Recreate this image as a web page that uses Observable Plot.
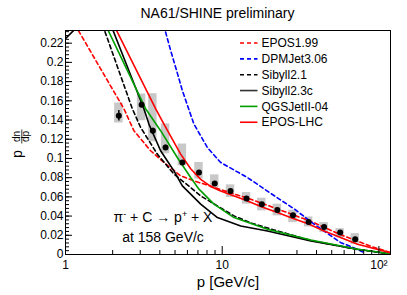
<!DOCTYPE html>
<html><head><meta charset="utf-8">
<script src="https://cdn.jsdelivr.net/npm/d3@7"></script>
<script src="https://cdn.jsdelivr.net/npm/@observablehq/plot@0.6"></script>
<style>
body{margin:0;background:#fff;font-family:"Liberation Sans",Arial,sans-serif;}
#title{height:20px;padding-top:5px;padding-left:28px;width:379px;text-align:center;font-size:14px;line-height:16px;color:#000;}
#chart svg{display:block;}
</style></head><body>
<div id="title">NA61/SHINE preliminary</div>
<div id="chart"></div>
<script>
// ---- measured data (NA61/SHINE preliminary) ----
const pMomentum = [2.19,3.06,3.61,4.35,5.57,7.11,8.96,11.3,14.3,17.9,22.5,28.3,35.6,44.7,56.6,70.6];
const pdndp     = [0.1445,0.156,0.1289,0.1114,0.0958,0.0853,0.0739,0.0662,0.0582,0.0523,0.0464,0.0409,0.0339,0.0287,0.0228,0.0159];
const statErr   = [0.0055,0.0025,0.0025,0.0025,0.002,0.002,0.002,0.002,0.0015,0.0015,0.0015,0.0015,0.0015,0.0015,0.0015,0.0015];
const sysLow    = [0.1369,0.1393,0.1174,0.1048,0.0923,0.0785,0.0691,0.0593,0.0524,0.0454,0.0402,0.0332,0.0287,0.0227,0.0175,0.0106];
const sysHigh   = [0.1577,0.1671,0.1674,0.136,0.115,0.0958,0.0829,0.0725,0.0645,0.0586,0.0524,0.0461,0.0391,0.0332,0.0269,0.0217];

// ---- model predictions ----
const epos199P = [1.09,1.188,1.673,2.358,2.732,3.493,4.248,5.43,6.60,8.44,9.78,15.2,23.6,36.8,57.2,88.9,118];
const epos199Y = [0.2457,0.2353,0.1935,0.1518,0.1289,0.108,0.0958,0.0819,0.0767,0.0712,0.0676,0.0575,0.0462,0.0345,0.0205,0.0085,0.0022];
const dpmjetP  = [4.12,4.29,4.69,5.12,5.57,6.60,8.04,9.78,14.49,22.5,28.8,38.4,57.2,73.1,79];
const dpmjetY  = [0.2457,0.2353,0.2123,0.1914,0.1706,0.1358,0.1114,0.0958,0.0801,0.059,0.0475,0.0318,0.0123,0.0054,0.0026];
const sib21P   = [1.667,1.757,2.669,3.015,3.855,4.92,6.29,7.29,9.78,11.9,15.2,21.4,36.8,73.1,118];
const sib21Y   = [0.2457,0.2353,0.1518,0.1323,0.1045,0.0837,0.0697,0.061,0.0485,0.0402,0.0329,0.0256,0.0146,0.0052,0.0007];
const sib23P   = [1.0,1.16,1.45,1.876,1.988,3.164,3.406,4.046,4.92,5.57,7.29,9.32,13.13,19.45,36.8,73.1,118];
const sib23Y   = [0.2248,0.2353,0.255,0.2457,0.2353,0.1518,0.1358,0.108,0.0871,0.0715,0.0524,0.0384,0.0297,0.0245,0.0141,0.0054,0.0008];
const qgsP     = [1.72,1.847,3.245,4.046,5.17,6.29,7.11,8.86,11.9,19.45,36.8,73.1,118];
const qgsY     = [0.2457,0.2353,0.1518,0.1289,0.101,0.0801,0.068,0.0524,0.0384,0.0263,0.0151,0.0054,0.0008];
const eposLhcP = [1.94,2.087,3.758,4.248,5.43,6.29,7.29,8.44,9.78,14.13,17.8,22.5,28.1,35.3,44.7,73.1,118];
const eposLhcY = [0.2457,0.2353,0.1518,0.1358,0.1045,0.0892,0.0782,0.0709,0.0662,0.0565,0.0496,0.0436,0.0378,0.0321,0.0245,0.0106,0.0019];

const modelNames = ["EPOS1.99","DPMJet3.06","Sibyll2.1","Sibyll2.3c","QGSJetII-04","EPOS-LHC"];

// ---- axis ticks ----
const yTicks = [0,0.02,0.04,0.06,0.08,0.1,0.12,0.14,0.16,0.18,0.2,0.22];
const yTickLabels = ["0","0.02","0.04","0.06","0.08","0.1","0.12","0.14","0.16","0.18","0.2","0.22"];
const xTicks = [1,10,100];
const xTickLabels = ["1","10","10\u00b2"];

// ---- build tables ----
const points = pMomentum.map((p,i)=>({p, y:pdndp[i], e:statErr[i], lo:sysLow[i], hi:sysHigh[i]}));
const curveSets = [[epos199P,epos199Y],[dpmjetP,dpmjetY],[sib21P,sib21Y],[sib23P,sib23Y],[qgsP,qgsY],[eposLhcP,eposLhcY]];
const styles = [
  {stroke:"#ff0000", dash:"4,3"},
  {stroke:"#0000ff", dash:"4,3"},
  {stroke:"#000000", dash:"4,3"},
  {stroke:"#000000", dash:null},
  {stroke:"#009f00", dash:null},
  {stroke:"#ff0000", dash:null}
];
const curves = curveSets.map(([ps,ys],k)=>ps.map((p,i)=>({model:modelNames[k], p, y:ys[i]})));

const W=407, H=270, mL=65, mR=17, mT=5, mB=41;
const frameW = W-mL-mR, frameH = H-mT-mB;
const boxHalf = 1.064;

const yMinor = d3.range(0, 0.2333, 0.004);
const xMinor = [];
for (const dec of [1,10]) for (let k=2;k<=9;k++) xMinor.push(k*dec);

const lineMarks = curves.map((c,k)=>Plot.line(c,{x:"p",y:"y",stroke:styles[k].stroke,strokeWidth:1.6,strokeDasharray:styles[k].dash,clip:true}));

const chart = Plot.plot({
  width:W, height:H, marginLeft:mL, marginRight:mR, marginTop:mT, marginBottom:mB,
  style:{fontFamily:"'Liberation Sans', Arial, sans-serif", fontSize:"12px", color:"#000", background:"#fff"},
  x:{type:"log", domain:[1,118.6]},
  y:{domain:[0,0.2332]},
  marks:[
    Plot.rect(points,{x1:d=>d.p/boxHalf, x2:d=>d.p*boxHalf, y1:"lo", y2:"hi", fill:"#c8c8c8"}),
    ...lineMarks,
    Plot.ruleX(points,{x:"p", y1:d=>d.y-d.e, y2:d=>d.y+d.e, stroke:"#000", strokeWidth:1.5}),
    Plot.dot(points,{x:"p", y:"y", r:3, fill:"#000", stroke:null}),
    Plot.tickY(yTicks,{y:d=>d, insetRight:frameW-7, stroke:"#000"}),
    Plot.tickY(yMinor,{y:d=>d, insetRight:frameW-4, stroke:"#000"}),
    Plot.tickX(xTicks,{x:d=>d, insetTop:frameH-8, stroke:"#000"}),
    Plot.tickX(xMinor,{x:d=>d, insetTop:frameH-4, stroke:"#000"}),
    Plot.axisY(yTicks,{tickSize:0, tickPadding:2, label:null, fontSize:12, tickFormat:d=>yTickLabels[yTicks.indexOf(d)]}),
    Plot.axisX(xTicks,{tickSize:0, tickPadding:6, label:null, fontSize:12, tickFormat:d=>xTickLabels[xTicks.indexOf(d)]}),
    Plot.frame({stroke:"#000"})
  ]
});
document.getElementById("chart").appendChild(chart);

const svg = d3.select(chart);
const ff = "'Liberation Sans', Arial, sans-serif";

// x-axis title
svg.append("text").attr("x",228).attr("y",262).attr("text-anchor","middle")
  .attr("font-family",ff).attr("font-size",15).attr("fill","#000").text("p [GeV/c]");

// y-axis title: p dn/dp (rotated)
const yl = svg.append("g").attr("font-family",ff).attr("fill","#000");
yl.append("text").attr("transform","translate(22,133) rotate(-90)").attr("text-anchor","start").attr("font-size",14).text("p");
yl.append("text").attr("transform","translate(20.3,111.5) rotate(-90)").attr("text-anchor","middle").attr("font-size",10).text("dn");
yl.append("line").attr("x1",21.8).attr("x2",21.8).attr("y1",104.5).attr("y2",118.5).attr("stroke","#000").attr("stroke-width",0.8);
yl.append("text").attr("transform","translate(28.8,111.5) rotate(-90)").attr("text-anchor","middle").attr("font-size",10).text("dp");

// reaction annotation
const ann = svg.append("text").attr("x",163).attr("y",197).attr("text-anchor","middle")
  .attr("font-family",ff).attr("font-size",14).attr("fill","#000");
ann.append("tspan").text("\u03c0");
ann.append("tspan").attr("dy",-5).attr("font-size",9).text("-");
ann.append("tspan").attr("dy",5).text(" + C \u2192 p");
ann.append("tspan").attr("dy",-5).attr("font-size",9).text("+");
ann.append("tspan").attr("dy",5).text(" + X");
svg.append("text").attr("x",163).attr("y",217).attr("text-anchor","middle")
  .attr("font-family",ff).attr("font-size",14).attr("fill","#000").text("at 158 GeV/c");

// legend
const lg = svg.append("g").attr("font-family",ff).attr("font-size",12).attr("text-anchor","start");
modelNames.forEach((name,k)=>{
  const yy = 18 + k*15.85;
  lg.append("line").attr("x1",240).attr("x2",257.5).attr("y1",yy).attr("y2",yy)
    .attr("stroke", k===3 ? "#333" : styles[k].stroke).attr("stroke-width",1.6)
    .attr("stroke-dasharray", styles[k].dash);
  lg.append("text").attr("x",261.5).attr("y",yy).attr("dy","0.35em").attr("text-anchor","start").attr("fill","#000").text(name);
});
</script></body></html>
